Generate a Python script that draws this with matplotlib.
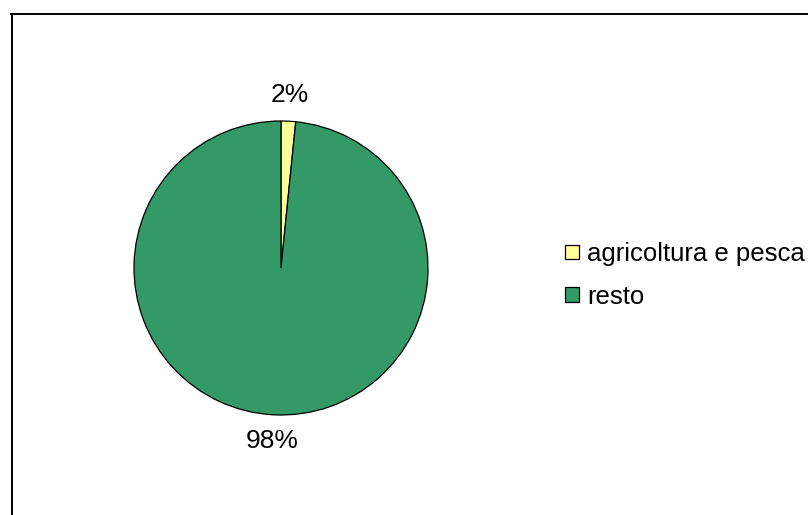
import matplotlib
matplotlib.use("Agg")
import matplotlib.pyplot as plt
from matplotlib.lines import Line2D
from matplotlib.patches import Patch

plt.rcParams['font.family'] = ['Liberation Sans', 'DejaVu Sans']

labels = ["agricoltura e pesca", "resto"]
values = [1.6, 98.4]
colors = ["#FFFF99", "#339966"]

W, H = 808, 515
fig = plt.figure(figsize=(W / 100, H / 100), dpi=100)

# chart-area frame (open to the right and bottom)
fig.add_artist(Line2D([12 / W, 12 / W], [0, 1 - 14 / H], color="black", lw=1.4,
                      transform=fig.transFigure))
fig.add_artist(Line2D([11 / W, 1], [1 - 14.5 / H, 1 - 14.5 / H], color="black", lw=1.4,
                      transform=fig.transFigure))

cx, cy, r = 281, 268, 147
ax = fig.add_axes([(cx - r) / W, (H - cy - r) / H, 2 * r / W, 2 * r / H])
wedges, texts, autotexts = ax.pie(
    values, colors=colors, startangle=90, counterclock=False,
    autopct="%.0f%%", pctdistance=1.18,
    wedgeprops=dict(edgecolor="black", linewidth=0.9),
    textprops=dict(fontsize=19, color="black"),
)
ax.set_xlim(-1, 1)
ax.set_ylim(-1, 1)
ax.set_aspect("equal")
ax.axis("off")

handles = [Patch(facecolor=c, edgecolor="black", linewidth=0.9) for c in colors]
fig.legend(handles, labels, loc="upper left", bbox_to_anchor=(565 / W, 1 - 242 / H),
           frameon=False, fontsize=18.5, handlelength=0.54, handleheight=0.5,
           handletextpad=0.33, labelspacing=0.72, borderaxespad=0, borderpad=0)

fig.savefig("out.png", dpi=100)
